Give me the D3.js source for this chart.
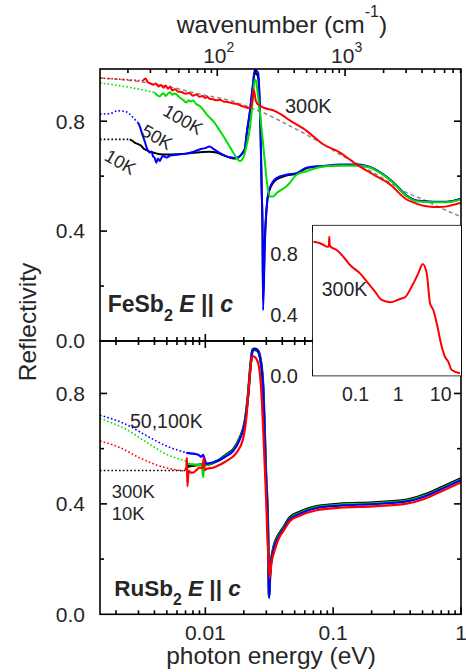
<!DOCTYPE html>
<html>
<head>
<meta charset="utf-8">
<script src="https://cdn.jsdelivr.net/npm/d3@7"></script>
<style>
  body { margin: 0; background: #fff; }
  svg { display: block; }
  text { font-family: "Liberation Sans", Arial, Helvetica, sans-serif; fill: #262626; }
</style>
</head>
<body>
<svg id="chart" width="466" height="672"></svg>
<script>
// ---------- FeSb2, E || c : reflectivity vs photon energy (eV) ----------
const fesb2_drude      = [[0.0015,0.957],[0.0027,0.947],[0.005,0.927],[0.009,0.899],[0.0165,0.872],[0.0223,0.850],[0.0301,0.826],[0.0339,0.814],[0.0458,0.783],[0.0619,0.751],[0.0835,0.716],[0.113,0.679],[0.152,0.647],[0.206,0.613],[0.278,0.577],[0.376,0.540],[0.507,0.515],[0.685,0.486],[1.0,0.452]];

const fesb2_10K_extrap = [[0.0015,0.734],[0.00256,0.734]];
const fesb2_10K        = [[0.00256,0.734],[0.0027,0.728],[0.0028,0.722],[0.0030,0.716],[0.00316,0.710],[0.0033,0.700],[0.00346,0.695],[0.0037,0.688],[0.00389,0.686],[0.0043,0.681],[0.00496,0.679],[0.0060,0.680],[0.0071,0.682],[0.0085,0.686],[0.0096,0.688],[0.0108,0.689],[0.0122,0.686],[0.0135,0.678],[0.0146,0.672],[0.0165,0.664],[0.0180,0.668],[0.0192,0.679],[0.0204,0.700],[0.0210,0.748],[0.0223,0.830],[0.0234,0.915],[0.0244,0.975],[0.0252,0.972],[0.0259,0.960],[0.0265,0.890],[0.0270,0.770],[0.0276,0.550],[0.0280,0.420],[0.0283,0.150],[0.0292,0.370],[0.0305,0.510],[0.0319,0.552],[0.0360,0.588],[0.0431,0.602],[0.0517,0.609],[0.0619,0.629],[0.0835,0.636],[0.113,0.640],[0.152,0.640],[0.183,0.636],[0.232,0.614],[0.295,0.577],[0.376,0.528],[0.450,0.510],[0.607,0.506],[0.773,0.506],[1.0,0.517]];

const fesb2_50K_extrap = [[0.0015,0.826],[0.00178,0.827],[0.00207,0.838],[0.00241,0.834],[0.00256,0.826],[0.0028,0.807],[0.00297,0.795]];
const fesb2_50K        = [[0.00297,0.795],[0.00306,0.783],[0.0032,0.755],[0.00335,0.728],[0.0035,0.700],[0.00367,0.686],[0.0038,0.690],[0.0039,0.672],[0.0040,0.668],[0.00414,0.649],[0.00425,0.664],[0.0044,0.655],[0.00455,0.668],[0.00467,0.673],[0.0050,0.668],[0.00526,0.674],[0.0060,0.678],[0.0071,0.682],[0.0080,0.688],[0.0090,0.697],[0.0100,0.702],[0.0108,0.708],[0.0115,0.700],[0.0122,0.692],[0.0135,0.680],[0.0146,0.672],[0.0160,0.668],[0.0175,0.666],[0.0186,0.672],[0.0197,0.688],[0.0204,0.700],[0.0210,0.751],[0.0223,0.837],[0.0234,0.922],[0.0244,0.990],[0.0250,0.985],[0.0259,0.976],[0.0265,0.900],[0.0270,0.776],[0.0276,0.550],[0.0280,0.410],[0.0283,0.112],[0.0292,0.350],[0.0305,0.508],[0.0319,0.556],[0.0360,0.593],[0.0431,0.605],[0.0517,0.611],[0.0619,0.631],[0.0835,0.637],[0.113,0.642],[0.152,0.642],[0.183,0.637],[0.232,0.615],[0.295,0.578],[0.376,0.529],[0.450,0.511],[0.607,0.507],[0.773,0.507],[1.0,0.518]];

const fesb2_100K_extrap = [[0.0015,0.939],[0.0025,0.924],[0.0040,0.905]];
const fesb2_100K        = [[0.0040,0.905],[0.0042,0.895],[0.0044,0.890],[0.00455,0.898],[0.0047,0.902],[0.0049,0.892],[0.0051,0.900],[0.0053,0.905],[0.0055,0.896],[0.0057,0.901],[0.0059,0.899],[0.0063,0.886],[0.0067,0.878],[0.0071,0.868],[0.0074,0.876],[0.0077,0.872],[0.0080,0.875],[0.0085,0.862],[0.0090,0.856],[0.0096,0.842],[0.0102,0.826],[0.0115,0.801],[0.0130,0.765],[0.0146,0.728],[0.0165,0.686],[0.0180,0.660],[0.0186,0.655],[0.0192,0.658],[0.0200,0.672],[0.0210,0.710],[0.0223,0.775],[0.0230,0.830],[0.0238,0.910],[0.0244,0.952],[0.0250,0.945],[0.0257,0.900],[0.0267,0.834],[0.0280,0.740],[0.0292,0.653],[0.0305,0.570],[0.0319,0.526],[0.0339,0.526],[0.0360,0.538],[0.0431,0.563],[0.0458,0.576],[0.0517,0.605],[0.0619,0.618],[0.0835,0.635],[0.113,0.639],[0.152,0.639],[0.183,0.635],[0.232,0.613],[0.295,0.576],[0.376,0.527],[0.450,0.509],[0.607,0.505],[0.773,0.505],[1.0,0.515]];

const fesb2_300K_extrap = [[0.0015,0.957],[0.0025,0.951],[0.00324,0.947]];
const fesb2_300K        = [[0.00324,0.947],[0.0034,0.955],[0.00355,0.942],[0.0037,0.938],[0.0039,0.933],[0.0041,0.937],[0.0043,0.926],[0.0045,0.932],[0.0047,0.922],[0.0049,0.930],[0.0051,0.918],[0.0053,0.926],[0.0055,0.912],[0.0058,0.916],[0.0061,0.908],[0.0065,0.906],[0.0070,0.900],[0.0075,0.903],[0.0080,0.893],[0.0085,0.897],[0.0090,0.889],[0.0095,0.892],[0.0100,0.884],[0.0103,0.889],[0.0108,0.882],[0.0115,0.880],[0.0122,0.876],[0.0130,0.878],[0.0140,0.871],[0.0150,0.870],[0.0160,0.866],[0.0175,0.863],[0.0186,0.858],[0.0200,0.853],[0.0216,0.848],[0.0228,0.850],[0.0234,0.880],[0.0238,0.916],[0.0242,0.905],[0.0248,0.875],[0.0257,0.862],[0.0267,0.857],[0.0290,0.848],[0.0339,0.840],[0.040,0.822],[0.0458,0.803],[0.0619,0.765],[0.0835,0.716],[0.113,0.686],[0.152,0.643],[0.206,0.606],[0.278,0.570],[0.376,0.515],[0.450,0.500],[0.507,0.492],[0.607,0.488],[0.685,0.488],[0.773,0.490],[1.0,0.503]];

// ---------- RuSb2, E || c ----------
const rusb2_10K_extrap = [[0.0015,0.521],[0.0072,0.521]];
const rusb2_10K        = [[0.0072,0.535],[0.0080,0.538],[0.0090,0.542],[0.0100,0.543],[0.0108,0.544],[0.0115,0.549],[0.0130,0.560],[0.0146,0.579],[0.0165,0.597],[0.0186,0.640],[0.0204,0.700],[0.0216,0.795],[0.0226,0.905],[0.0234,0.958],[0.0240,0.962],[0.0255,0.958],[0.0267,0.937],[0.0283,0.830],[0.0297,0.530],[0.0310,0.280],[0.0315,0.065],[0.0322,0.160],[0.0339,0.236],[0.0383,0.296],[0.0406,0.314],[0.0458,0.351],[0.0548,0.371],[0.0741,0.391],[0.113,0.400],[0.206,0.405],[0.376,0.415],[0.507,0.432],[0.685,0.458],[1.0,0.492]];

const rusb2_50K_extrap = [[0.0015,0.721],[0.0024,0.688],[0.0035,0.646],[0.0050,0.609],[0.0071,0.585]];
const rusb2_50K        = [[0.0071,0.585],[0.0080,0.582],[0.0088,0.578],[0.0093,0.570],[0.0096,0.578],[0.0099,0.560],[0.0102,0.545],[0.0108,0.548],[0.0115,0.550],[0.0130,0.560],[0.0146,0.573],[0.0165,0.591],[0.0186,0.634],[0.0204,0.695],[0.0216,0.791],[0.0226,0.900],[0.0234,0.955],[0.0240,0.960],[0.0255,0.955],[0.0267,0.932],[0.0283,0.823],[0.0297,0.521],[0.0310,0.277],[0.0315,0.058],[0.0322,0.150],[0.0339,0.229],[0.0383,0.289],[0.0406,0.307],[0.0458,0.344],[0.0548,0.364],[0.0741,0.385],[0.113,0.394],[0.206,0.399],[0.376,0.409],[0.507,0.425],[0.685,0.451],[1.0,0.486]];

const rusb2_100K_extrap = [[0.0015,0.709],[0.0024,0.670],[0.0035,0.622],[0.0050,0.579],[0.0071,0.555]];
const rusb2_100K        = [[0.0071,0.547],[0.0080,0.543],[0.0090,0.541],[0.0094,0.540],[0.0096,0.497],[0.0098,0.538],[0.0103,0.541],[0.0108,0.545],[0.0130,0.558],[0.0146,0.576],[0.0165,0.594],[0.0186,0.637],[0.0204,0.697],[0.0216,0.792],[0.0226,0.902],[0.0234,0.952],[0.0240,0.957],[0.0255,0.953],[0.0267,0.932],[0.0283,0.820],[0.0297,0.520],[0.0310,0.280],[0.0315,0.065],[0.0322,0.155],[0.0339,0.232],[0.0383,0.292],[0.0406,0.310],[0.0458,0.347],[0.0548,0.367],[0.0741,0.388],[0.113,0.397],[0.206,0.402],[0.376,0.412],[0.507,0.428],[0.685,0.454],[1.0,0.488]];

const rusb2_300K_extrap = [[0.0015,0.628],[0.00214,0.604],[0.00306,0.567],[0.0044,0.537],[0.0067,0.519]];
const rusb2_300K        = [[0.0069,0.524],[0.0071,0.530],[0.00718,0.567],[0.00724,0.464],[0.0074,0.520],[0.0077,0.513],[0.0080,0.513],[0.0085,0.522],[0.0090,0.531],[0.0095,0.530],[0.00972,0.567],[0.0099,0.522],[0.0103,0.527],[0.0115,0.531],[0.0130,0.542],[0.0146,0.555],[0.0175,0.585],[0.0197,0.634],[0.0210,0.719],[0.0220,0.840],[0.0230,0.925],[0.0236,0.935],[0.0250,0.926],[0.0262,0.900],[0.0272,0.830],[0.0283,0.680],[0.0297,0.450],[0.0310,0.220],[0.0319,0.132],[0.0330,0.190],[0.0345,0.225],[0.0383,0.283],[0.0406,0.300],[0.0458,0.337],[0.0548,0.357],[0.0741,0.377],[0.113,0.386],[0.206,0.391],[0.376,0.401],[0.507,0.417],[0.685,0.443],[1.0,0.478]];

// ---------- FeSb2 300K over the wide range (inset) ----------
const inset_300K = [[0.0102,0.884],[0.012,0.880],[0.0146,0.874],[0.018,0.862],[0.021,0.851],[0.0235,0.852],[0.0241,0.917],[0.0248,0.860],[0.0261,0.851],[0.0361,0.829],[0.0515,0.785],[0.074,0.730],[0.127,0.675],[0.199,0.609],[0.286,0.554],[0.411,0.499],[0.644,0.484],[1.107,0.506],[1.45,0.517],[2.08,0.587],[2.98,0.675],[3.78,0.737],[4.70,0.675],[5.61,0.477],[6.71,0.433],[8.06,0.345],[10.6,0.190],[12.6,0.124],[15.1,0.091],[18.2,0.036],[28.4,0.015]];

// ---------- tick labels ----------
const energyTicks    = [0.01, 0.1, 1];
const energyLabels   = ["0.01", "0.1", "1"];
const wavenumTicks   = [100, 1000];
const wavenumExp     = ["2", "3"];
const reflTicks      = [0.0, 0.4, 0.8];
const reflMinorTicks = [0.2, 0.6];
const insetTicks     = [0.1, 1, 10];
const insetLabels    = ["0.1", "1", "10"];

// ---------- layout ----------
const svg = d3.select("#chart");
const box = { left: 100, right: 461, top: 69, mid: 341, bottom: 614.3 };
const ins = { left: 313, right: 461, top: 225.7, bottom: 375.5 };
const EV_TO_CM = 8065.54;

const x     = d3.scaleLog().domain([0.0015, 1]).range([box.left, box.right]);
const xWn   = d3.scaleLog().domain([0.0015 * EV_TO_CM, 1 * EV_TO_CM]).range([box.left, box.right]);
const yTop  = d3.scaleLinear().domain([0, 0.99]).range([box.mid, box.top]);
const yBot  = d3.scaleLinear().domain([0, 0.99]).range([box.bottom, box.mid]);
const xIn   = d3.scaleLog().domain([0.01, 30]).range([ins.left, ins.right]);
const yIn   = d3.scaleLinear().domain([0, 0.99]).range([ins.bottom, ins.top]);

const COL = { k: "#000000", b: "#0000ff", g: "#00e000", r: "#ff0000", gray: "#8a8a8a" };

// minor/major ticks of a log axis between lo and hi
function logTicks(lo, hi) {
  const out = [];
  for (let k = Math.floor(Math.log10(lo)); k <= Math.ceil(Math.log10(hi)); k++) {
    for (let d = 1; d <= 9; d++) {
      const v = d * Math.pow(10, k);
      if (v >= lo * 0.999 && v <= hi * 1.001) out.push({ v, major: d === 1 });
    }
  }
  return out;
}

const defs = svg.append("defs");
defs.append("clipPath").attr("id", "clipTop").append("rect")
  .attr("x", box.left).attr("y", box.top).attr("width", box.right - box.left).attr("height", box.mid - box.top);
defs.append("clipPath").attr("id", "clipBot").append("rect")
  .attr("x", box.left).attr("y", box.mid).attr("width", box.right - box.left).attr("height", box.bottom - box.mid);
defs.append("clipPath").attr("id", "clipIn").append("rect")
  .attr("x", ins.left).attr("y", ins.top).attr("width", ins.right - ins.left).attr("height", ins.bottom - ins.top);

function drawSeries(g, xs, ys, data, color, opts = {}) {
  const line = d3.line().x(d => xs(d[0])).y(d => ys(d[1])).curve(d3.curveMonotoneX);
  g.append("path").datum(data)
    .attr("d", line)
    .attr("fill", "none")
    .attr("stroke", color)
    .attr("stroke-width", opts.width || 2)
    .attr("stroke-linejoin", "round")
    .attr("stroke-dasharray", opts.dash || null);
}

const DOT = "1.6 2.2";

// ---------- top panel curves ----------
const gTop = svg.append("g").attr("clip-path", "url(#clipTop)");
drawSeries(gTop, x, yTop, fesb2_drude, COL.gray, { width: 1.5, dash: "4 3" });
drawSeries(gTop, x, yTop, fesb2_10K_extrap, COL.k, { width: 1.6, dash: DOT });
drawSeries(gTop, x, yTop, fesb2_50K_extrap, COL.b, { width: 1.6, dash: DOT });
drawSeries(gTop, x, yTop, fesb2_100K_extrap, COL.g, { width: 1.6, dash: DOT });
drawSeries(gTop, x, yTop, fesb2_300K_extrap, COL.r, { width: 1.6, dash: DOT });
drawSeries(gTop, x, yTop, fesb2_10K, COL.k);
drawSeries(gTop, x, yTop, fesb2_50K, COL.b);
drawSeries(gTop, x, yTop, fesb2_100K, COL.g);
drawSeries(gTop, x, yTop, fesb2_300K, COL.r);

// ---------- bottom panel curves ----------
const gBot = svg.append("g").attr("clip-path", "url(#clipBot)");
drawSeries(gBot, x, yBot, rusb2_10K_extrap, COL.k, { width: 1.6, dash: DOT });
drawSeries(gBot, x, yBot, rusb2_300K_extrap, COL.r, { width: 1.6, dash: DOT });
drawSeries(gBot, x, yBot, rusb2_100K_extrap, COL.g, { width: 1.6, dash: DOT });
drawSeries(gBot, x, yBot, rusb2_50K_extrap, COL.b, { width: 1.6, dash: DOT });
drawSeries(gBot, x, yBot, rusb2_10K, COL.k, { width: 2.6 });
drawSeries(gBot, x, yBot, rusb2_100K, COL.g, { width: 2.2 });
drawSeries(gBot, x, yBot, rusb2_50K, COL.b, { width: 2.2 });
drawSeries(gBot, x, yBot, rusb2_300K, COL.r, { width: 2.2 });

// ---------- frames and ticks ----------
const axisG = svg.append("g").attr("stroke", "#000").attr("stroke-width", 1.6);
function frame(x0, y0, x1, y1) {
  axisG.append("rect").attr("x", x0).attr("y", y0).attr("width", x1 - x0).attr("height", y1 - y0)
    .attr("fill", "none");
}
function hTicks(xs, ticks, yPos, dir, majLen, minLen) {
  ticks.forEach(t => {
    const L = t.major ? majLen : minLen;
    axisG.append("line").attr("x1", xs(t.v)).attr("x2", xs(t.v)).attr("y1", yPos).attr("y2", yPos + dir * L);
  });
}
function vTicks(ys, vals, xPos, dir, lenFn) {
  vals.forEach(v => {
    axisG.append("line").attr("y1", ys(v)).attr("y2", ys(v)).attr("x1", xPos).attr("x2", xPos + dir * lenFn(v));
  });
}

frame(box.left, box.top, box.right, box.mid);
frame(box.left, box.mid, box.right, box.bottom);

const eTicks = logTicks(0.0015, 1);
hTicks(x, eTicks, box.bottom, -1, 7, 4);
hTicks(x, eTicks, box.mid, -1, 7, 4);
hTicks(x, eTicks, box.mid, 1, 7, 4);
hTicks(xWn, logTicks(0.0015 * EV_TO_CM, EV_TO_CM), box.top, 1, 7, 4);

const yVals = [0.2, 0.4, 0.6, 0.8];
const lenL = v => reflMinorTicks.some(m => Math.abs(m - v) < 1e-6) ? 4 : 7;
vTicks(yTop, yVals, box.left, 1, lenL);
vTicks(yBot, yVals, box.left, 1, lenL);

// ---------- axis labels ----------
const FS = 21;
reflTicks.forEach(v => {
  [yTop, yBot].forEach(ys => {
    svg.append("text").attr("x", 85).attr("y", ys(v)).attr("dy", "0.35em")
      .attr("text-anchor", "end").attr("font-size", FS).text(v.toFixed(1));
  });
});
energyTicks.forEach((v, i) => {
  svg.append("text").attr("x", x(v)).attr("y", 640).attr("text-anchor", "middle")
    .attr("font-size", FS).text(energyLabels[i]);
});
wavenumTicks.forEach((v, i) => {
  const t = svg.append("text").attr("x", xWn(v) + 1.5).attr("y", 63.3).attr("text-anchor", "middle").attr("font-size", FS);
  t.append("tspan").text("10");
  t.append("tspan").attr("font-size", 14).attr("dy", -11).text(wavenumExp[i]);
});

svg.append("text").attr("x", 271).attr("y", 664).attr("text-anchor", "middle").attr("font-size", 24.5)
  .text("photon energy (eV)");
const wt = svg.append("text").attr("x", 282).attr("y", 33).attr("text-anchor", "middle").attr("font-size", 24.5);
wt.append("tspan").text("wavenumber (cm");
wt.append("tspan").attr("font-size", 16).attr("dy", -16).text("-1");
wt.append("tspan").attr("dy", 16).text(")");

svg.append("text").attr("transform", "translate(36,322) rotate(-90)").attr("text-anchor", "middle")
  .attr("font-size", 24.5).text("Reflectivity");

// ---------- curve and panel labels ----------
svg.append("text").attr("x", 285).attr("y", 113).attr("font-size", 20).text("300K");
svg.append("text").attr("transform", "translate(161.7,114.5) rotate(30)").attr("font-size", 18).text("100K");
svg.append("text").attr("transform", "translate(140,134.5) rotate(30)").attr("font-size", 18).text("50K");
svg.append("text").attr("transform", "translate(103.3,159.5) rotate(30)").attr("font-size", 18).text("10K");

svg.append("text").attr("x", 130).attr("y", 428.3).attr("font-size", 19.5).text("50,100K");
svg.append("text").attr("x", 111.7).attr("y", 497.5).attr("font-size", 18.5).text("300K");
svg.append("text").attr("x", 111.7).attr("y", 519.5).attr("font-size", 18.5).text("10K");

function panelLabel(x0, y0, fs, name) {
  const t = svg.append("text").attr("x", x0).attr("y", y0).attr("font-size", fs).attr("font-weight", "bold");
  t.append("tspan").text(name);
  t.append("tspan").attr("font-size", fs * 0.7).attr("dy", fs * 0.42).text("2");
  t.append("tspan").attr("dy", -fs * 0.42).text(" ");
  t.append("tspan").attr("font-style", "italic").text("E");
  t.append("tspan").text(" || ");
  t.append("tspan").attr("font-style", "italic").text("c");
}
panelLabel(107.7, 311.7, 23, "FeSb");
panelLabel(114.3, 596, 22.5, "RuSb");

// ---------- inset ----------
svg.append("rect").attr("x", ins.left).attr("y", ins.top).attr("width", ins.right - ins.left)
  .attr("height", ins.bottom - ins.top).attr("fill", "#fff");
const gIn = svg.append("g").attr("clip-path", "url(#clipIn)");
drawSeries(gIn, xIn, yIn, inset_300K, COL.r, { width: 2 });
frame(ins.left, ins.top, ins.right, ins.bottom);
const inTicks = logTicks(0.01, 30);
hTicks(xIn, inTicks, ins.bottom, -1, 6, 3);
hTicks(xIn, inTicks, ins.top, 1, 6, 3);
vTicks(yIn, yVals, ins.left, 1, v => 5);
vTicks(yIn, yVals, ins.right, -1, v => 5);
reflTicks.forEach(v => {
  svg.append("text").attr("x", 298).attr("y", yIn(v)).attr("dy", "0.35em")
    .attr("text-anchor", "end").attr("font-size", 20).text(v.toFixed(1));
});
insetTicks.forEach((v, i) => {
  svg.append("text").attr("x", xIn(v)).attr("y", 401).attr("text-anchor", "middle")
    .attr("font-size", 19.5).text(insetLabels[i]);
});
svg.append("text").attr("x", 321.7).attr("y", 296).attr("font-size", 19.5).text("300K");

// right-hand ticks of the main panels
vTicks(yTop, yVals, box.right, -1, lenL);
vTicks(yBot, yVals, box.right, -1, lenL);
</script>
</body>
</html>
